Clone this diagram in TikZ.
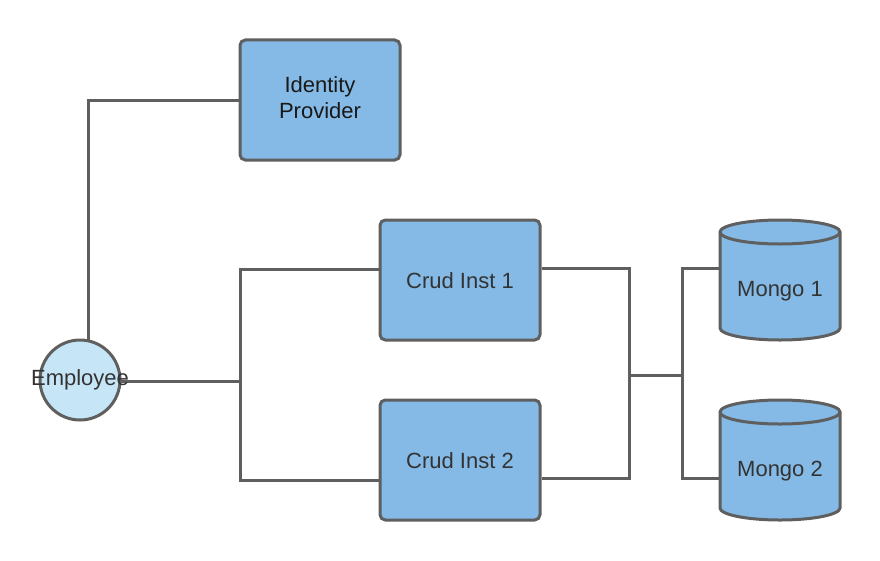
\documentclass[tikz,border=0pt]{standalone}
\usepackage{fontspec}
\setmainfont{Liberation Sans}
\usetikzlibrary{backgrounds}
\definecolor{boxfill}{HTML}{84BAE5}
\definecolor{empfill}{HTML}{C6E5F7}
\definecolor{edge}{HTML}{5F5F5F}
\definecolor{txt}{HTML}{333333}
\tikzset{
  box/.style={draw=edge, fill=boxfill, line width=2.25pt, rounded corners=4pt,
    minimum width=120pt, minimum height=90pt, align=center, text=txt,
    font=\fontsize{16.5pt}{19.5pt}\selectfont},
  empc/.style={draw=edge, fill=empfill, line width=2.25pt, circle, minimum size=60pt, inner sep=0pt},
  lbl/.style={text=txt, font=\fontsize{16.5pt}{19.5pt}\selectfont, inner sep=0pt},
  conn/.style={draw=edge, line width=2.25pt},
  cyl/.style={draw=edge, fill=boxfill, line width=2.25pt}
}
\begin{document}
\begin{tikzpicture}[x=0.75pt, y=0.75pt]
\useasboundingbox (0,0) rectangle (880,-560);
% nodes
\node[box] (idp) at (320,-100) {};
\node[lbl, text=black!90, align=center] (idplbl) at (320,-98) {Identity\\Provider};
\node[box] (c1) at (460,-280) {};
\node[lbl] (c1lbl) at (460,-281) {Crud Inst 1};
\node[box] (c2) at (460,-460) {};
\node[lbl] (c2lbl) at (460,-461) {Crud Inst 2};
\node[empc] (emp) at (80,-380) {};
\node[lbl] (emplbl) at (80,-380) {Employee};
% cylinders
\foreach \n/\cy in {1/280, 2/460} {
  \path[cyl] (720,-\cy+48) -- (720,-\cy-48) arc (180:360:60 and 12) -- (840,-\cy+48) arc (0:180:60 and 12) -- cycle;
  \draw[cyl, fill=none] (720,-\cy+48) arc (180:360:60 and 12);
}
\node[lbl] (m1) at (780,-291) {Mongo 1};
\node[lbl] (m2) at (780,-471) {Mongo 2};
% connection points
\coordinate (m1w) at (720,-268);
\coordinate (m2w) at (720,-478);
\coordinate (c1w) at ([yshift=8.25pt]c1.west);
\coordinate (c2w) at ([yshift=-15pt]c2.west);
\coordinate (c1e) at ([yshift=9pt]c1.east);
\coordinate (c2e) at ([yshift=-13.5pt]c2.east);
\coordinate (j1) at (240,-381);
\coordinate (j2) at (629,-375);
\coordinate (j3) at (682,-375);
\coordinate (eup) at (88,-345);
% connectors
\begin{scope}[on background layer]
\draw[conn] (eup) |- (idp.west);
\draw[conn] (emp.center |- j1) -- (j1);
\draw[conn] (c1w) -| (j1) |- (c2w);
\draw[conn] (c1e) -| (j2) |- (c2e);
\draw[conn] (j2) -- (j3);
\draw[conn] (m1w) -| (j3) |- (m2w);
\end{scope}
\end{tikzpicture}
\end{document}
